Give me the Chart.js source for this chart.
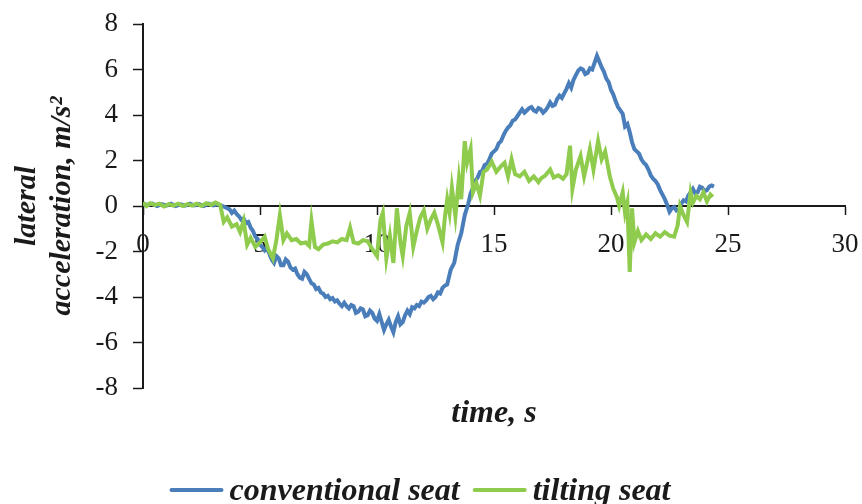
<!DOCTYPE html>
<html>
<head>
<meta charset="utf-8">
<script src="https://cdn.jsdelivr.net/npm/chart.js@4.4.1/dist/chart.umd.min.js"></script>
<style>
  html, body { margin: 0; padding: 0; background: #fff; }
  #wrap { width: 862px; height: 504px; }
</style>
</head>
<body>
<div id="wrap"><canvas id="myChart" width="862" height="504"></canvas></div>
<script>
// Series names
const seriesNames = ['conventional seat', 'tilting seat']

// conventional seat: time (s) and lateral acceleration (m/s2)
const timeConv = [
  0.0, 0.2, 0.4, 0.6, 0.8, 1.0, 1.2, 1.4, 1.6, 1.8, 2.0, 2.2, 2.4, 2.6, 2.8, 3.0, 3.2, 3.4,
  3.6, 3.7, 3.8, 3.9, 4.0, 4.1, 4.2, 4.3, 4.4, 4.5, 4.6, 4.7, 4.8, 4.9, 5.0, 5.1, 5.2, 5.3,
  5.4, 5.5, 5.6, 5.7, 5.8, 5.9, 6.0, 6.1, 6.2, 6.3, 6.4, 6.5, 6.6, 6.7, 6.8, 6.9, 7.0, 7.1,
  7.2, 7.3, 7.4, 7.5, 7.6, 7.7, 7.8, 7.9, 8.0, 8.1, 8.2, 8.3, 8.4, 8.5, 8.6, 8.7, 8.8, 8.9,
  9.0, 9.1, 9.2, 9.3, 9.4, 9.5, 9.6, 9.7, 9.8, 9.9, 10.0, 10.1, 10.2, 10.3, 10.4, 10.5, 10.6,
  10.7, 10.8, 10.9, 11.0, 11.1, 11.2, 11.3, 11.4, 11.5, 11.6, 11.7, 11.8, 11.9, 12.0, 12.1,
  12.2, 12.3, 12.4, 12.5, 12.6, 12.7, 12.8, 12.9, 13.0, 13.15, 13.3, 13.45, 13.6, 13.75, 13.9,
  14.0, 14.1, 14.2, 14.3, 14.4, 14.5, 14.6, 14.7, 14.8, 14.9, 15.0, 15.1, 15.2, 15.3, 15.4,
  15.5, 15.6, 15.7, 15.8, 15.9, 16.0, 16.1, 16.2, 16.3, 16.4, 16.5, 16.6, 16.7, 16.8, 16.9,
  17.0, 17.1, 17.2, 17.3, 17.4, 17.5, 17.6, 17.7, 17.8, 17.9, 18.0, 18.1, 18.2, 18.3, 18.4,
  18.5, 18.6, 18.7, 18.8, 18.9, 19.0, 19.1, 19.2, 19.3, 19.4, 19.5, 19.6, 19.7, 19.8, 19.9,
  20.0, 20.1, 20.2, 20.3, 20.4, 20.5, 20.6, 20.7, 20.8, 20.9, 21.0, 21.1, 21.2, 21.3, 21.4,
  21.5, 21.6, 21.7, 21.8, 21.9, 22.0, 22.1, 22.2, 22.3, 22.4, 22.5, 22.6, 22.7, 22.8, 22.9,
  23.0, 23.1, 23.2, 23.3, 23.4, 23.5, 23.6, 23.7, 23.8, 23.9, 24.0, 24.1, 24.2, 24.3, 24.4
]
const accelConv = [
  0.1, 0.05, 0.1, 0.0, 0.08, 0.02, 0.1, 0.0, 0.07, 0.02, 0.1, 0.03, 0.08, 0.0, 0.1, 0.03, 0.07, 0.0,
  -0.1, -0.15, -0.3, -0.2, -0.35, -0.45, -0.6, -0.55, -0.75, -0.7, -0.95, -1.1, -1.35, -1.45, -1.7, -1.8, -1.95, -1.85,
  -2.1, -2.35, -2.5, -2.2, -2.3, -2.6, -2.6, -2.35, -2.45, -2.7, -2.8, -2.75, -3.0, -3.15, -3.2, -2.9, -3.0, -3.2,
  -3.4, -3.45, -3.65, -3.6, -3.8, -3.85, -4.0, -3.95, -4.1, -4.05, -4.2, -4.15, -4.3, -4.4, -4.25, -4.4, -4.5, -4.35,
  -4.4, -4.7, -4.65, -4.5, -4.55, -4.85, -4.8, -4.6, -4.7, -4.95, -5.05, -4.75, -5.1, -5.45, -5.2, -5.0, -5.3,
  -5.55, -5.1, -4.85, -5.2, -5.1, -4.8, -4.6, -4.75, -4.45, -4.5, -4.35, -4.4, -4.2, -4.25, -4.15,
  -4.0, -3.95, -4.1, -4.0, -3.8, -3.85, -3.6, -3.5, -3.45, -2.8, -2.5, -1.7, -1.2, -0.4, 0.1,
  0.55, 0.8, 1.1, 1.25, 1.5, 1.55, 1.8, 1.85, 2.05, 2.3, 2.4, 2.5, 2.75, 2.85, 3.1,
  3.3, 3.45, 3.55, 3.75, 3.8, 3.95, 4.1, 4.25, 4.1, 4.2, 4.3, 4.35, 4.2, 4.15, 4.3,
  4.25, 4.1, 4.2, 4.35, 4.55, 4.4, 4.45, 4.7, 4.85, 4.75, 4.95, 5.15, 5.4, 5.2, 5.55,
  5.75, 5.95, 6.05, 6.0, 5.8, 5.85, 6.05, 6.0, 6.3, 6.6, 6.35, 6.1, 5.9, 5.6, 5.45,
  5.1, 4.9, 4.6, 4.35, 4.2, 4.05, 3.5, 3.6, 3.25, 2.8, 2.5, 2.4, 2.3, 2.05, 1.9,
  1.8, 1.6, 1.35, 1.2, 1.1, 0.95, 0.7, 0.5, 0.3, 0.05, -0.25, -0.1, -0.05, -0.2, -0.15,
  0.1, 0.25, 0.2, 0.45, 0.6, 0.75, 0.55, 0.6, 0.85, 0.8, 0.65, 0.7, 0.85, 0.9, 0.85
]

// tilting seat: time (s) and lateral acceleration (m/s2)
const timeTilt = [
  0.0, 0.15, 0.3, 0.5, 0.7, 0.9, 1.1, 1.3, 1.5, 1.7, 1.9, 2.1, 2.3, 2.5, 2.7, 2.9, 3.1, 3.3,
  3.45, 3.6, 3.8, 4.0, 4.15, 4.3, 4.45, 4.6, 4.8, 5.0, 5.2, 5.35, 5.55, 5.7, 5.85, 6.0, 6.15,
  6.35, 6.55, 6.75, 6.95, 7.1, 7.2, 7.35, 7.5, 7.7, 7.9, 8.1, 8.3, 8.5, 8.7, 8.85, 9.0, 9.2,
  9.4, 9.6, 9.8, 10.0, 10.15, 10.25, 10.4, 10.55, 10.7, 10.85, 11.0, 11.1, 11.25, 11.4, 11.55,
  11.7, 11.85, 12.0, 12.15, 12.3, 12.45, 12.6, 12.8, 12.9, 13.0, 13.1, 13.2, 13.35, 13.5, 13.6,
  13.75, 13.85, 14.0, 14.1, 14.25, 14.4, 14.55, 14.7, 14.9, 15.1, 15.3, 15.45, 15.6, 15.75,
  15.9, 16.1, 16.3, 16.5, 16.7, 16.9, 17.0, 17.2, 17.4, 17.55, 17.75, 17.95, 18.1, 18.25,
  18.35, 18.5, 18.7, 18.85, 19.0, 19.1, 19.25, 19.45, 19.6, 19.75, 19.95, 20.1, 20.25, 20.35,
  20.5, 20.6, 20.7, 20.8, 20.9, 21.0, 21.15, 21.3, 21.5, 21.7, 21.9, 22.1, 22.3, 22.5, 22.7,
  22.85, 22.95, 23.1, 23.25, 23.4, 23.5, 23.65, 23.8, 23.95, 24.1, 24.25, 24.35
]
const accelTilt = [
  0.15, 0.0, 0.12, 0.05, 0.1, -0.02, 0.08, 0.02, 0.1, 0.0, 0.08, 0.02, 0.1, 0.0, 0.12, 0.05, 0.15, 0.05,
  -0.7, -0.5, -0.9, -0.8, -1.15, -0.65, -1.7, -1.4, -1.8, -1.6, -1.35, -1.9, -2.3, -1.5, -0.4, -1.5, -1.2,
  -1.5, -1.45, -1.65, -1.6, -1.75, -0.65, -1.8, -1.9, -1.7, -1.65, -1.55, -1.6, -1.45, -1.5, -0.95, -1.6, -1.65,
  -1.5, -1.55, -1.9, -2.2, -0.6, -0.3, -2.3, -1.3, -2.5, -0.1, -1.6, -2.2, -0.9, -0.3, -1.8,
  -1.1, -0.5, -0.2, -1.0, -0.6, -0.3, -0.8, -1.6, -0.5, 0.3, -0.3, 0.8, -0.45, 1.2, 0.3,
  2.85, 1.9, 2.5, 0.6, 1.0, 0.45, 1.5, 1.6, 1.95, 1.5, 1.75, 1.9, 1.3, 2.05,
  1.4, 1.3, 1.5, 1.1, 1.3, 1.05, 1.2, 1.35, 1.6, 1.25, 1.35, 1.2, 1.4, 2.65,
  0.75, 1.6, 2.2, 1.3, 2.0, 2.5, 1.6, 2.85, 2.05, 2.4, 1.3, 0.75, 0.4, 0.0,
  0.6, -0.3, 0.15, -2.9, -0.1, -1.6, -1.1, -1.5, -1.25, -1.45, -1.2, -1.35, -1.15, -1.3, -1.35,
  -0.85, 0.0, -0.4, -0.7, 0.6, 0.15, 0.45, 0.3, 0.6, 0.2, 0.5, 0.4
]

// Axis limits and tick steps
const xRange = [0, 30]
const xStep = 5
const yRange = [-8, 8]
const yStep = 2

const axisTitleX = 'time, s'
const axisTitleY = ['lateral', 'acceleration, m/s\u00B2']

const colors = ['#4a7ebb', '#8fcb4c']
const serif = "'Liberation Serif', 'Times New Roman', serif"

const toPoints = (xs, ys) => xs.map((x, i) => ({ x: x, y: ys[i] }))

// x title and legend are drawn by hand so they can sit where the original has them
const extras = {
  id: 'extras',
  afterDraw(chart) {
    const ctx = chart.ctx
    const area = chart.chartArea
    ctx.save()
    ctx.fillStyle = '#1a1a1a'
    ctx.font = 'italic bold 32px ' + serif
    ctx.textAlign = 'center'
    ctx.textBaseline = 'middle'
    ctx.fillText(axisTitleX, (area.left + area.right) / 2, area.bottom + 26)

    // legend
    const lineLen = 50
    const gapLine = 8
    const gapItem = 15
    const widths = seriesNames.map(n => ctx.measureText(n).width)
    let total = 0
    widths.forEach((w, i) => { total += lineLen + gapLine + w + (i ? gapItem : 0) })
    let x = chart.width / 2 - 10 - total / 2
    const y = 490
    ctx.textAlign = 'left'
    ctx.textBaseline = 'alphabetic'
    seriesNames.forEach((name, i) => {
      ctx.strokeStyle = colors[i]
      ctx.lineWidth = 4
      ctx.lineCap = 'round'
      ctx.beginPath()
      ctx.moveTo(x, y)
      ctx.lineTo(x + lineLen, y)
      ctx.stroke()
      x += lineLen + gapLine
      ctx.fillText(name, x, y + 10)
      x += widths[i] + gapItem
    })
    ctx.restore()
  }
}

const ctx = document.getElementById('myChart')
// eslint-disable-next-line no-unused-vars
const myChart = new Chart(ctx, {
  type: 'line',
  data: {
    datasets: [{
      label: seriesNames[0],
      data: toPoints(timeConv, accelConv),
      borderColor: colors[0],
      backgroundColor: colors[0],
      borderWidth: 4,
      pointRadius: 0,
      tension: 0,
      order: 1
    }, {
      label: seriesNames[1],
      data: toPoints(timeTilt, accelTilt),
      borderColor: colors[1],
      backgroundColor: colors[1],
      borderWidth: 4,
      pointRadius: 0,
      tension: 0,
      order: 0
    }]
  },
  options: {
    responsive: false,
    animation: false,
    layout: { padding: { left: 0, right: 17, top: 24, bottom: 116 } },
    plugins: {
      legend: { display: false },
      tooltip: { enabled: false }
    },
    scales: {
      x: {
        type: 'linear',
        position: { y: 0 },
        min: xRange[0],
        max: xRange[1],
        afterFit(scale) {
          scale.paddingLeft = 0
          scale.paddingRight = 0
        },
        border: { display: true, color: '#1a1a1a', width: 2 },
        grid: {
          display: true,
          drawOnChartArea: false,
          drawTicks: true,
          tickLength: 8,
          tickColor: '#1a1a1a',
          tickWidth: 1.5
        },
        ticks: {
          stepSize: xStep,
          padding: 15,
          maxRotation: 0,
          color: '#1a1a1a',
          font: { family: serif, size: 27 }
        }
      },
      y: {
        position: 'left',
        min: yRange[0],
        max: yRange[1],
        afterFit(scale) {
          scale.width = 143
          scale.paddingTop = 0
          scale.paddingBottom = 0
        },
        border: { display: true, color: '#1a1a1a', width: 2 },
        grid: {
          display: true,
          drawOnChartArea: false,
          drawTicks: true,
          tickLength: 10,
          tickColor: '#1a1a1a',
          tickWidth: 1.5
        },
        ticks: {
          stepSize: yStep,
          padding: 15,
          color: '#1a1a1a',
          font: { family: serif, size: 27 }
        },
        title: {
          display: true,
          text: axisTitleY,
          color: '#1a1a1a',
          padding: { top: 10, bottom: 0 },
          font: { family: serif, size: 30, weight: 'bold', style: 'italic', lineHeight: 1.17 }
        }
      }
    }
  },
  plugins: [extras]
})
</script>
</body>
</html>
